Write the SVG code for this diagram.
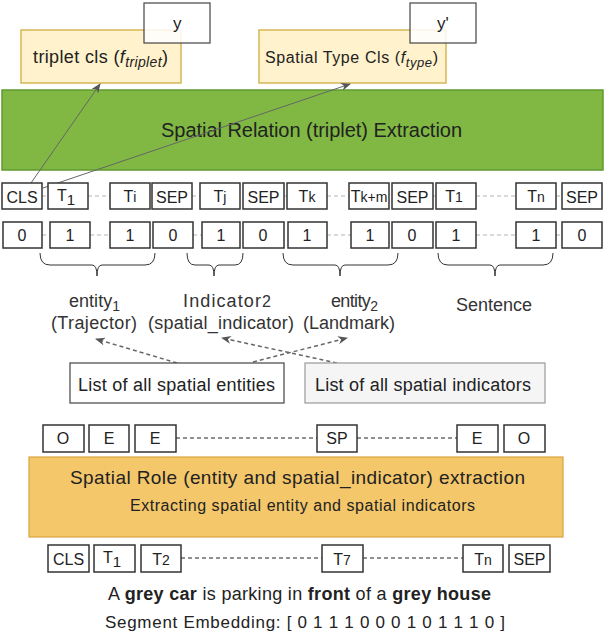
<svg xmlns="http://www.w3.org/2000/svg" width="606" height="634" viewBox="0 0 606 634">
<defs>
<style>
text{font-family:"Liberation Sans",Arial,sans-serif;fill:#222}
.tok{fill:#fff;stroke:#333;stroke-width:1.5}
.tt{font-size:16px;text-anchor:middle}
.lbl{font-size:18px;fill:#333}
.dl{stroke:#b3b3b3;stroke-width:1;stroke-dasharray:4,3;fill:none}
.dk{stroke:#222;stroke-width:1;stroke-dasharray:4,3;fill:none}
.br{fill:none;stroke:#333;stroke-width:1}
.arr{stroke:#666;stroke-width:1;fill:none}
.darr{stroke:#666;stroke-width:1.5;stroke-dasharray:4,3;fill:none}
</style>
<marker id="ah" markerWidth="10" markerHeight="8" refX="9" refY="4" orient="auto" markerUnits="userSpaceOnUse">
<path d="M0,0 L10,4 L0,8 L3,4 Z" fill="#555"/>
</marker>
</defs>

<g id="triplet-cls">
<rect x="21" y="30" width="160" height="53" fill="#fff2cc" stroke="#d6b656" stroke-width="1.5"/>
<text x="33" y="63" font-size="18" textLength="135">triplet cls (<tspan font-style="italic">f</tspan><tspan font-style="italic" font-size="14" dy="4">triplet</tspan><tspan dy="-4">)</tspan></text>
</g>
<g id="y-box">
<rect x="144" y="3" width="66" height="40" fill="#fff" fill-opacity="0.85" stroke="#444" stroke-width="1.2"/>
<text x="173" y="29" font-size="17" fill="#333">y</text>
</g>
<g id="type-cls">
<rect x="259" y="30" width="187" height="53" fill="#fff2cc" stroke="#d6b656" stroke-width="1.5"/>
<text x="265" y="63" font-size="16" textLength="173">Spatial Type Cls (<tspan font-style="italic">f</tspan><tspan font-style="italic" font-size="13" dy="4">type</tspan><tspan dy="-4">)</tspan></text>
</g>
<g id="yprime-box">
<rect x="410" y="3" width="66" height="40" fill="#fff" fill-opacity="0.85" stroke="#444" stroke-width="1.2"/>
<text x="437" y="29" font-size="17" fill="#333">y'</text>
</g>

<g id="relation-extraction">
<rect x="2" y="90" width="601" height="80" fill="#80b843" stroke="#5f9a2e" stroke-width="1.5"/>
<text x="161" y="137" font-size="20" textLength="301">Spatial Relation (triplet) Extraction</text>
</g>

<g id="connectors">
<line class="arr" x1="31" y1="183" x2="100" y2="84" marker-end="url(#ah)"/>
<line class="arr" x1="43" y1="188" x2="350" y2="84" marker-end="url(#ah)"/>
<line class="dl" x1="88" y1="196" x2="110" y2="196"/>
<line class="dl" x1="192" y1="196" x2="200" y2="196"/>
<line class="dl" x1="327" y1="196" x2="349" y2="196"/>
<line class="dl" x1="476" y1="196" x2="516" y2="196"/>
<line class="dl" x1="556" y1="196" x2="562" y2="196"/>
<line class="dl" x1="42" y1="196" x2="48" y2="196"/>
<line class="dl" x1="284" y1="196" x2="287" y2="196"/>
<line class="dl" x1="433" y1="196" x2="436" y2="196"/>
<line class="dl" x1="90" y1="235" x2="110" y2="235"/>
<line class="dl" x1="42" y1="235" x2="50" y2="235"/>
<line class="dl" x1="193" y1="235" x2="202" y2="235"/>
<line class="dl" x1="327" y1="235" x2="351" y2="235"/>
<line class="dl" x1="476" y1="235" x2="516" y2="235"/>
<line class="dl" x1="556" y1="235" x2="562" y2="235"/>
<line class="darr" x1="177" y1="363" x2="96" y2="339" marker-end="url(#ah)"/>
<line class="darr" x1="253" y1="362" x2="347" y2="338" marker-end="url(#ah)"/>
<line class="darr" x1="337" y1="363" x2="222" y2="338" marker-end="url(#ah)"/>
<line class="dk" x1="176" y1="438" x2="317" y2="438"/>
<line class="dk" x1="357" y1="438" x2="457" y2="438"/>
<line class="dk" x1="181" y1="558" x2="322" y2="558"/>
<line class="dk" x1="363" y1="558" x2="463" y2="558"/>
</g>

<g id="tokens-row1">
<rect class="tok" x="2" y="183" width="40" height="26"/><text class="tt" x="22" y="203" font-size="17">CLS</text>
<rect class="tok" x="48" y="183" width="40" height="26"/><text class="tt" x="66" y="201" font-size="18">T<tspan font-size="15" dy="4">1</tspan></text>
<rect class="tok" x="110" y="183" width="40" height="26"/><text class="tt" x="130" y="202">T<tspan font-size="14">i</tspan></text>
<rect class="tok" x="152" y="183" width="40" height="26"/><text class="tt" x="172" y="203" font-size="17">SEP</text>
<rect class="tok" x="200" y="183" width="40" height="26"/><text class="tt" x="220" y="202">T<tspan font-size="14">j</tspan></text>
<rect class="tok" x="243" y="183" width="41" height="26"/><text class="tt" x="263.5" y="203" font-size="17">SEP</text>
<rect class="tok" x="287" y="183" width="40" height="26"/><text class="tt" x="307" y="202">T<tspan font-size="14">k</tspan></text>
<rect class="tok" x="349" y="183" width="40" height="26"/><text class="tt" x="369" y="202" font-size="15">T<tspan font-size="14">k+m</tspan></text>
<rect class="tok" x="392" y="183" width="41" height="26"/><text class="tt" x="412.5" y="203" font-size="17">SEP</text>
<rect class="tok" x="436" y="183" width="40" height="26"/><text class="tt" x="454" y="202">T<tspan font-size="14">1</tspan></text>
<rect class="tok" x="516" y="183" width="40" height="26"/><text class="tt" x="536" y="202">T<tspan font-size="14">n</tspan></text>
<rect class="tok" x="562" y="183" width="40" height="26"/><text class="tt" x="582" y="203" font-size="17">SEP</text>
</g>

<g id="tokens-row2">
<rect class="tok" x="3" y="222" width="39" height="26"/><text class="tt" x="22" y="241">0</text>
<rect class="tok" x="50" y="222" width="40" height="26"/><text class="tt" x="70" y="241">1</text>
<rect class="tok" x="110" y="222" width="40" height="26"/><text class="tt" x="130" y="241">1</text>
<rect class="tok" x="153" y="222" width="40" height="26"/><text class="tt" x="173" y="241">0</text>
<rect class="tok" x="202" y="222" width="38" height="26"/><text class="tt" x="221" y="241">1</text>
<rect class="tok" x="243" y="222" width="41" height="26"/><text class="tt" x="263" y="241">0</text>
<rect class="tok" x="288" y="222" width="39" height="26"/><text class="tt" x="307" y="241">1</text>
<rect class="tok" x="351" y="222" width="38" height="26"/><text class="tt" x="370" y="241">1</text>
<rect class="tok" x="392" y="222" width="41" height="26"/><text class="tt" x="412" y="241">0</text>
<rect class="tok" x="436" y="222" width="40" height="26"/><text class="tt" x="456" y="241">1</text>
<rect class="tok" x="516" y="222" width="40" height="26"/><text class="tt" x="536" y="241">1</text>
<rect class="tok" x="562" y="222" width="40" height="26"/><text class="tt" x="582" y="241">0</text>
</g>

<g id="braces">
<path class="br" d="M40,253 Q40,265 50,265 L92,265 Q97,265 97,276 Q97,265 102,265 L145,265 Q155,265 155,253"/>
<path class="br" d="M187,253 Q187,265 195,265 L209,265 Q214,265 214,276 Q214,265 219,265 L235,265 Q243,265 243,253"/>
<path class="br" d="M283,253 Q283,265 293,265 L335,265 Q340,265 340,276 Q340,265 345,265 L388,265 Q398,265 398,253"/>
<path class="br" d="M438,253 Q438,265 448,265 L490,265 Q495,265 495,276 Q495,265 500,265 L543,265 Q553,265 553,253"/>
</g>

<g id="labels">
<text class="lbl" x="69" y="307" textLength="51">entity<tspan font-size="14" dy="4">1</tspan></text>
<text class="lbl" x="51" y="329" textLength="86">(Trajector)</text>
<text class="lbl" x="183" y="307" font-size="19" textLength="88">Indicator<tspan font-size="16">2</tspan></text>
<text class="lbl" x="148" y="329" textLength="146">(spatial_indicator)</text>
<text class="lbl" x="331" y="307" textLength="47">entity<tspan font-size="14" dy="4">2</tspan></text>
<text class="lbl" x="303" y="329" textLength="92">(Landmark)</text>
<text class="lbl" x="456" y="311" font-size="19">Sentence</text>
</g>

<g id="list-entities">
<rect x="70" y="363" width="214" height="40" fill="#fff" stroke="#444" stroke-width="1.2"/>
<text x="78" y="391" font-size="18" textLength="197" fill="#333">List of all spatial entities</text>
</g>
<g id="list-indicators">
<rect x="305" y="363" width="240" height="40" fill="#f5f5f5" stroke="#999" stroke-width="1.2"/>
<text x="315" y="391" font-size="18" textLength="216" fill="#333">List of all spatial indicators</text>
</g>

<g id="tags-row">
<rect class="tok" x="43" y="425" width="41" height="27"/><text class="tt" x="63" y="444" font-size="17">O</text>
<rect class="tok" x="89" y="425" width="40" height="27"/><text class="tt" x="109" y="444" font-size="17">E</text>
<rect class="tok" x="135" y="425" width="41" height="27"/><text class="tt" x="155" y="444" font-size="17">E</text>
<rect class="tok" x="317" y="425" width="40" height="27"/><text class="tt" x="337" y="444" font-size="17">SP</text>
<rect class="tok" x="457" y="425" width="41" height="27"/><text class="tt" x="477" y="444" font-size="17">E</text>
<rect class="tok" x="504" y="425" width="41" height="27"/><text class="tt" x="524" y="444" font-size="17">O</text>
</g>

<g id="role-extraction">
<rect x="29" y="457" width="534" height="80" fill="#f4c76b" stroke="#d9a440" stroke-width="1.2"/>
<text x="70" y="484" font-size="19" textLength="455">Spatial Role (entity and spatial_indicator) extraction</text>
<text x="130" y="511" font-size="16" textLength="345">Extracting spatial entity and spatial indicators</text>
</g>

<g id="tokens-bottom">
<rect class="tok" x="48" y="545" width="41" height="27"/><text class="tt" x="68.5" y="565" font-size="17">CLS</text>
<rect class="tok" x="94" y="545" width="41" height="27"/><text class="tt" x="112" y="563" font-size="18">T<tspan font-size="15" dy="4">1</tspan></text>
<rect class="tok" x="141" y="545" width="40" height="27"/><text class="tt" x="161" y="565">T<tspan font-size="14">2</tspan></text>
<rect class="tok" x="322" y="545" width="41" height="27"/><text class="tt" x="342" y="565">T<tspan font-size="14">7</tspan></text>
<rect class="tok" x="463" y="545" width="40" height="27"/><text class="tt" x="483" y="565">T<tspan font-size="14">n</tspan></text>
<rect class="tok" x="509" y="545" width="41" height="27"/><text class="tt" x="529.5" y="565" font-size="17">SEP</text>
</g>

<g id="sentence">
<text x="108" y="600" font-size="18" textLength="383" fill="#333">A <tspan font-weight="bold">grey car</tspan> is parking in <tspan font-weight="bold">front</tspan> of a <tspan font-weight="bold">grey house</tspan></text>
<text x="105" y="628" font-size="17" textLength="400" fill="#333">Segment Embedding: [ 0 1 1 1 0 0 0 1 0 1 1 1 0 ]</text>
</g>
</svg>
